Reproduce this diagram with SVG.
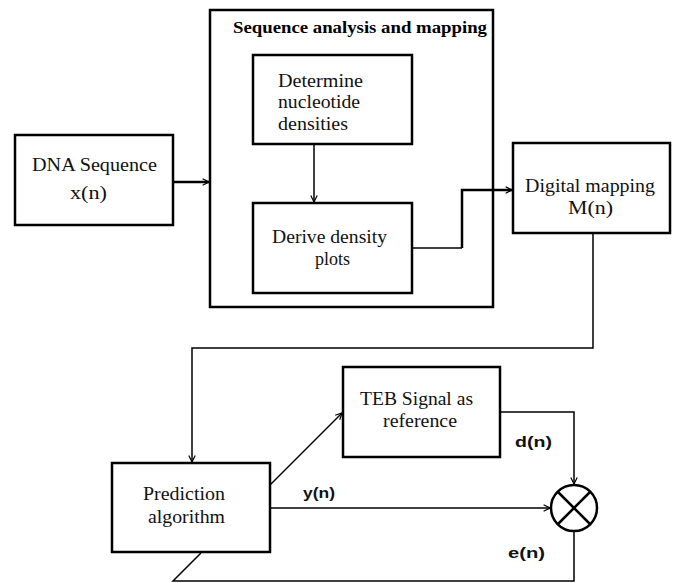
<svg xmlns="http://www.w3.org/2000/svg" width="676" height="583" viewBox="0 0 676 583">
<style>
.box{fill:#fff;stroke:#000;stroke-width:2.5}
.t{font-family:'Liberation Serif','Times New Roman',Tinos,'DejaVu Serif',serif;font-size:19px;fill:#111}
.ttl{font-family:'Liberation Serif','Times New Roman',Tinos,'DejaVu Serif',serif;font-size:17px;font-weight:bold;fill:#000}
.lbl{font-family:'Liberation Sans',Arial,sans-serif;font-size:15px;font-weight:bold;fill:#111}
.c{fill:none;stroke:#000;stroke-width:1.5}
.ck{fill:none;stroke:#000;stroke-width:2.5}
</style>
<defs>
<marker id="ah" viewBox="0 0 10 10" refX="9" refY="5" markerWidth="8" markerHeight="8" markerUnits="userSpaceOnUse" orient="auto">
<path d="M1,1 L9,5 L1,9" fill="none" stroke="#000" stroke-width="1.5"/>
</marker>
</defs>
<rect x="0" y="0" width="676" height="583" fill="#fff"/>
<g id="seq-analysis">
<rect class="box" x="210" y="10" width="283" height="297" stroke-width="2"/>
<text class="ttl" x="233" y="33" textLength="254" lengthAdjust="spacingAndGlyphs">Sequence analysis and mapping</text>
</g>
<g id="dna">
<rect class="box" x="15" y="135" width="158" height="90"/>
<text class="t" x="32" y="171" textLength="125" lengthAdjust="spacingAndGlyphs">DNA Sequence</text>
<text class="t" x="70" y="199" textLength="37" lengthAdjust="spacingAndGlyphs">x(n)</text>
</g>
<g id="determine">
<rect class="box" x="253" y="55" width="159" height="89"/>
<text class="t" x="278" y="87" textLength="85" lengthAdjust="spacingAndGlyphs">Determine</text>
<text class="t" x="278" y="108" textLength="82" lengthAdjust="spacingAndGlyphs">nucleotide</text>
<text class="t" x="278" y="130" textLength="70" lengthAdjust="spacingAndGlyphs">densities</text>
</g>
<g id="derive">
<rect class="box" x="253" y="203" width="159" height="90"/>
<text class="t" x="272" y="243" textLength="115" lengthAdjust="spacingAndGlyphs">Derive density</text>
<text class="t" x="315" y="265" textLength="35" lengthAdjust="spacingAndGlyphs">plots</text>
</g>
<g id="digital">
<rect class="box" x="513" y="143" width="157" height="90"/>
<text class="t" x="525" y="192" textLength="130" lengthAdjust="spacingAndGlyphs">Digital mapping</text>
<text class="t" x="568" y="214" textLength="45" lengthAdjust="spacingAndGlyphs">M(n)</text>
</g>
<g id="prediction">
<rect class="box" x="112" y="463" width="158" height="89"/>
<text class="t" x="143" y="500" textLength="82" lengthAdjust="spacingAndGlyphs">Prediction</text>
<text class="t" x="148" y="523" textLength="77" lengthAdjust="spacingAndGlyphs">algorithm</text>
</g>
<g id="teb">
<rect class="box" x="343" y="367" width="157" height="90"/>
<text class="t" x="360" y="405" textLength="113" lengthAdjust="spacingAndGlyphs">TEB Signal as</text>
<text class="t" x="383" y="427" textLength="74" lengthAdjust="spacingAndGlyphs">reference</text>
</g>
<g id="mixer">
<circle cx="574" cy="508" r="23" fill="#fff" stroke="#000" stroke-width="2.5"/>
<line x1="558" y1="492" x2="590" y2="524" stroke="#000" stroke-width="2.5"/>
<line x1="590" y1="492" x2="558" y2="524" stroke="#000" stroke-width="2.5"/>
</g>
<g id="connectors">
<line class="ck" x1="173" y1="182" x2="209" y2="182" marker-end="url(#ah)"/>
<line class="c" x1="314" y1="144" x2="314" y2="202" marker-end="url(#ah)"/>
<polyline class="c" points="412,248 462,248"/>
<polyline class="ck" points="462,248 462,190 512,190" marker-end="url(#ah)"/>
<polyline class="c" points="593,233 593,348 192,348 192,462" marker-end="url(#ah)"/>
<line class="c" x1="270" y1="485" x2="342" y2="413" stroke-width="2" marker-end="url(#ah)"/>
<polyline class="c" points="500,412 574,412 574,484" marker-end="url(#ah)"/>
<line class="c" x1="270" y1="508" x2="550" y2="508" stroke-width="2" marker-end="url(#ah)"/>
<polyline class="c" points="574,531 574,581 173,581 201,553"/>
<text class="lbl" x="303" y="498" textLength="32" lengthAdjust="spacingAndGlyphs">y(n)</text>
<text class="lbl" x="515" y="447" textLength="37" lengthAdjust="spacingAndGlyphs">d(n)</text>
<text class="lbl" x="508" y="558" textLength="37" lengthAdjust="spacingAndGlyphs">e(n)</text>
</g>
</svg>
